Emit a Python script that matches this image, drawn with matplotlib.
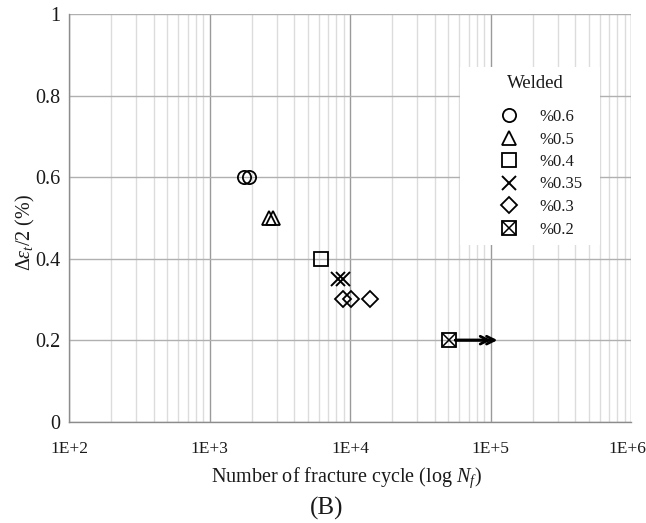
import matplotlib
matplotlib.use("Agg")
import matplotlib.pyplot as plt
from matplotlib.patches import Rectangle
from matplotlib.ticker import LogLocator, FixedLocator, NullFormatter
from matplotlib.legend_handler import HandlerTuple
from matplotlib.transforms import ScaledTranslation

plt.rcParams['font.family'] = ['Liberation Serif', 'DejaVu Serif']
plt.rcParams['mathtext.fontset'] = 'custom'
plt.rcParams['mathtext.rm'] = 'Liberation Serif'
plt.rcParams['mathtext.it'] = 'Liberation Serif:italic'
plt.rcParams['mathtext.bf'] = 'Liberation Serif:bold'

# ---- data ----
labels = ['%0.6', '%0.5', '%0.4', '%0.35', '%0.3', '%0.2']
amp = [0.6, 0.5, 0.4, 0.35, 0.3, 0.2]
cycles = [
    [1750, 1900],
    [2650, 2850],
    [6200],
    [8200, 8900],
    [8900, 10200, 13900],
    [51000],
]
runout_start = 51000
runout_tips = [1.01e5, 1.12e5]
xticks = [1e2, 1e3, 1e4, 1e5, 1e6]
xticklabels = ['1E+2', '1E+3', '1E+4', '1E+5', '1E+6']
yticks = [0, 0.2, 0.4, 0.6, 0.8, 1.0]
yticklabels = ['0', '0.2', '0.4', '0.6', '0.8', '1']

W, H = 646, 523
fig = plt.figure(figsize=(W / 100, H / 100), dpi=100)
ax = fig.add_axes([69 / W, 1 - 421.7 / H, 562 / W, 407.7 / H])
ax.set_xscale('log')
ax.set_xlim(1e2, 1e6)
ax.set_ylim(0, 1)
ax.set_axisbelow(True)

ax.xaxis.set_major_locator(FixedLocator(xticks))
ax.set_xticklabels(xticklabels)
ax.xaxis.set_minor_locator(LogLocator(base=10, subs=range(2, 10)))
ax.xaxis.set_minor_formatter(NullFormatter())
ax.set_yticks(yticks)
ax.set_yticklabels(yticklabels)

ax.grid(which='major', axis='x', color='#9a9a9a', lw=1.0)
ax.grid(which='minor', axis='x', color='#dcdcdc', lw=1.0)
ax.grid(which='major', axis='y', color='#b0b0b0', lw=1.0)
ax.tick_params(which='both', length=0)
ax.tick_params(axis='x', pad=14, labelsize=12.5, colors='#1a1a1a')
ax.tick_params(axis='y', pad=6, labelsize=14.5, colors='#1a1a1a')
last = ax.get_xticklabels()[-1]
last.set_transform(last.get_transform() + ScaledTranslation(-4 / 100, 0, fig.dpi_scale_trans))
for s in ['top', 'right']:
    ax.spines[s].set_visible(False)
for s in ['left', 'bottom']:
    ax.spines[s].set_color('#8c8c8c')
    ax.spines[s].set_linewidth(1.0)

# legend background box
ax.add_patch(Rectangle((0.696, 0.433), 0.249, 0.437, transform=ax.transAxes,
                       facecolor='white', edgecolor='none', zorder=1))

mk = dict(color='black', mfc='none', mec='black', ls='none', mew=1.3, zorder=3)
styles = [
    dict(marker='o', ms=9.5),
    dict(marker='^', ms=10),
    dict(marker='s', ms=9.5),
    dict(marker='x', ms=9.5, mew=1.4),
    dict(marker='D', ms=8.5),
]
handles = []
for i in range(5):
    h, = ax.plot(cycles[i], [amp[i]] * len(cycles[i]), **{**mk, **styles[i]})
    handles.append(h)
# boxed X
hs, = ax.plot(cycles[5], [amp[5]], **{**mk, 'marker': 's', 'ms': 9.5})
hx, = ax.plot(cycles[5], [amp[5]], **{**mk, 'marker': 'x', 'ms': 9.5, 'mew': 1.1})
handles.append((hs, hx))

for tip in runout_tips:
    ax.annotate('', xy=(tip, amp[5]), xytext=(runout_start * 1.1, amp[5]),
                arrowprops=dict(arrowstyle='->', color='black', lw=2.0,
                                shrinkA=0, shrinkB=0, mutation_scale=14),
                zorder=4)

leg = ax.legend(handles, labels, loc='upper left',
                bbox_to_anchor=((496.5 - 69) / 562, (421.7 - 109) / 407.7),
                frameon=False, fontsize=12, handlelength=1.5,
                handletextpad=1.05, labelspacing=0.39, borderpad=0,
                borderaxespad=0,
                handler_map={tuple: HandlerTuple(ndivide=1, pad=0)})
for t in leg.get_texts():
    t.set_color('#1a1a1a')
leg.set_zorder(5)
ax.text((535.7 - 69) / 562, (421.7 - 83) / 407.7, 'Welded', transform=ax.transAxes,
        fontsize=13.5, ha='center', va='center', color='#1a1a1a', zorder=6)

ax.set_ylabel(r'$\Delta\varepsilon_t/2$ (%)', fontsize=14.5, color='#1a1a1a')
ax.yaxis.set_label_coords(-(69 - 25) / 562, (421.7 - 232) / 407.7)
ax.set_xlabel(r'Number of fracture cycle (log $N_f$)', fontsize=14.5, color='#1a1a1a')
ax.xaxis.set_label_coords((346.7 - 69) / 562, -(478 - 421.7) / 407.7)
ax.xaxis.label.set_va('center')
ax.yaxis.label.set_va('center')

fig.text(327 / W, 1 - 508 / H, '(B)', fontsize=18, ha='center', va='center', color='#1a1a1a')

fig.savefig('out.png', dpi=100)
